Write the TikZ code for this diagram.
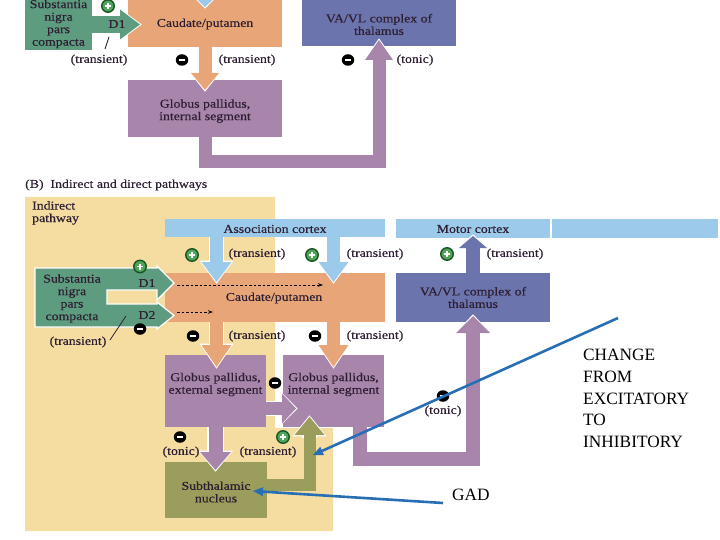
\documentclass[tikz,border=0pt]{standalone}
\usepackage{fontspec}
\setmainfont{Liberation Serif}
\newfontfamily\diagfont{Liberation Serif}[FakeStretch=1.15,FakeBold=0.35]
\usetikzlibrary{arrows.meta,calc,shapes.geometric}
\definecolor{snG}{RGB}{94,156,128}
\definecolor{cauO}{RGB}{232,166,120}
\definecolor{gpP}{RGB}{168,134,172}
\definecolor{thalC}{RGB}{108,116,173}
\definecolor{barB}{RGB}{156,202,235}
\definecolor{stnO}{RGB}{154,157,92}
\definecolor{bgY}{RGB}{245,220,160}
\definecolor{annB}{RGB}{40,110,180}
\definecolor{txt}{RGB}{45,30,50}
\definecolor{pfill}{RGB}{80,165,90}
\definecolor{pring}{RGB}{25,85,35}
\newcommand\blockarrow[5]{%
  \pgfmathsetmacro\baW{#2+2.4}\pgfmathsetmacro\baH{#3+4}\pgfmathsetmacro\baL{#4+3}%
  \draw[white, line width=\baW pt, line join=miter, -{Triangle[width=\baH pt, length=\baL pt, line width=0pt]}, shorten >=-1.7pt] #5;
  \draw[#1, line width=#2pt, line join=miter, -{Triangle[width=#3pt, length=#4pt, line width=0pt]}] #5;}
\begin{document}
\begin{tikzpicture}[x=1pt,y=-1pt,
  box/.style={rectangle, inner sep=0pt, draw=none, outer sep=0pt},
  lab/.style={font=\diagfont\fontsize{12}{12.5}\selectfont, text=txt, inner sep=0pt, align=center},
  note/.style={font=\fontsize{17.3}{21.7}\selectfont, text=black, inner sep=0pt, align=left},
  possign/.style={circle, fill=pfill, draw=pring, line width=1.4pt, minimum size=12.5pt, inner sep=0pt,
    path picture={\draw[white,line width=1.8pt] ([xshift=-3pt]path picture bounding box.center) -- ([xshift=3pt]path picture bounding box.center);
      \draw[white,line width=1.8pt] ([yshift=-3pt]path picture bounding box.center) -- ([yshift=3pt]path picture bounding box.center);}},
  negsign/.style={ellipse, fill=black, minimum width=12.5pt, minimum height=11.5pt, inner sep=0pt,
    path picture={\draw[white,line width=2.4pt] ([xshift=-3.4pt]path picture bounding box.center) -- ([xshift=3.4pt]path picture bounding box.center);}},
  dasharrow/.style={draw=black, line width=0.7pt, dash pattern=on 2.5pt off 2pt, -{Stealth[length=5pt,width=3.5pt]}},
  slash/.style={draw=txt, line width=0.8pt},
  annot/.style={draw=annB, line width=2.6pt, -{Triangle[width=9pt,length=10pt,line width=0pt]}}
]
\useasboundingbox (0,0) rectangle (720,540);
\clip (0,0) rectangle (720,540);

% ---------------- Part A ----------------
\node[box, fill=snG, minimum width=67pt, minimum height=54pt] (snA) at (58.5,23) {};
\node[box, fill=cauO, minimum width=154pt, minimum height=48pt] (cauA) at (205,23) {};
\node[box, fill=thalC, minimum width=154pt, minimum height=46pt] (thalA) at (379,23) {};
\node[box, fill=gpP, minimum width=154pt, minimum height=57pt] (gpiA) at (205,108.5) {};

\blockarrow{snG}{17}{30}{20}{($(snA.east)+(0,1.5)$) -- ($(cauA.west)+(12,1.5)$)}
\blockarrow{barB}{13}{30}{14}{($(cauA.north)+(0,-20)$) -- ($(cauA.north)+(0,8)$)}
\blockarrow{cauO}{13}{28}{17}{(cauA.south) -- ($(gpiA.north)+(0,10)$)}
\blockarrow{gpP}{13}{28}{20}{(gpiA.south) -- ++(0,24.5) -| ($(thalA.south)+(0,-6)$)}

\node[lab] (snAt) at (58.5,24) {Substantia\\nigra\\pars\\compacta};
\node[lab] (d1A) at (117,24) {D1};
\node[lab] (cauAt) at (205,24) {Caudate/putamen};
\node[lab] (thalAt) at (379,24.5) {VA/VL complex of\\thalamus};
\node[lab] (gpiAt) at (205,111) {Globus pallidus,\\internal segment};
\coordinate (slA1) at (109,37); \coordinate (slA2) at (105,49);
\draw[slash] (slA1) -- (slA2);
\node[lab] (trA1) at (99,60) {(transient)};
\node[lab] (trA2) at (247,60) {(transient)};
\node[lab] (tonA) at (415,60) {(tonic)};
\node[possign] (pA1) at (108,6) {};
\node[negsign] (mA1) at (182,60) {};
\node[negsign] (mA2) at (348,60) {};

\node[lab, anchor=west] (titleB) at (25,185) {(B)\ \ Indirect and direct pathways};

% ---------------- Part B ----------------
\fill[bgY] (25,197) -- (275,197) -- (275,428) -- (333,428) -- (333,531) -- (25,531) -- cycle;
\node[lab, anchor=north west, align=left] (indir) at (32,201) {Indirect\\pathway};

\node[box, fill=barB, minimum width=220pt, minimum height=18pt] (assoc) at (275,228) {};
\node[box, fill=barB, minimum width=154pt, minimum height=19pt] (motor) at (473,228.5) {};
\node[box, fill=barB, minimum width=166pt, minimum height=19pt] (motorx) at (635,228.5) {};
\node[box, fill=cauO, minimum width=220pt, minimum height=49pt] (cauB) at (275,297.5) {};
\node[box, fill=thalC, minimum width=154pt, minimum height=49pt] (thalB) at (473,297.5) {};
\node[box, fill=gpP, minimum width=101pt, minimum height=72pt] (gpe) at (215.5,391) {};
\node[box, fill=gpP, minimum width=101pt, minimum height=72pt] (gpiB) at (333.5,391) {};
\node[box, fill=stnO, minimum width=102pt, minimum height=56pt] (stn) at (216,490) {};

% substantia nigra with D1 / D2 arms
\draw[fill=snG, draw=white, line width=1.2pt, line join=miter]
  (35,268) -- (157,268) -- (157,266) -- (174,283) -- (157,300) -- (157,290) -- (107,290) -- (107,304)
  -- (157,304) -- (157,302) -- (174,315.5) -- (157,329) -- (157,327) -- (35,327) -- cycle;

\blockarrow{barB}{13}{30}{20}{($(assoc.south)+(-58.5,0)$) -- ($(cauB.north)+(-58.5,9)$)}
\blockarrow{barB}{13}{30}{20}{($(assoc.south)+(58.5,0)$) -- ($(cauB.north)+(58.5,9)$)}
\blockarrow{cauO}{13}{30}{22}{($(cauB.south)+(-58.5,0)$) -- ($(gpe.north)+(1,12)$)}
\blockarrow{cauO}{13}{30}{22}{($(cauB.south)+(58.5,0)$) -- ($(gpiB.north)+(0,12)$)}
\blockarrow{gpP}{13}{30}{14}{($(gpe.east)+(0,17.5)$) -- ($(gpiB.west)+(13,17.5)$)}
\blockarrow{gpP}{14}{31}{18}{(gpe.south) -- ($(stn.north)+(-0.5,8)$)}
\draw[stnO, line width=12pt, line join=miter] ($(stn.east)+(0,-5.5)$) -| ($(gpiB.south)+(-24,10)$);
\blockarrow{stnO}{12}{30}{18}{($(gpiB.south)+(-24,11)$) -- ($(gpiB.south)+(-24,-10)$)}
\blockarrow{gpP}{14}{34}{17}{($(gpiB.south)+(26.5,0)$) -- ++(0,31.5) -| ($(thalB.south)+(0,-6)$)}
\blockarrow{thalC}{14}{28}{12}{(thalB.north) -- ($(motor.south)+(0,-2)$)}

\node[lab] (assoct) at (275,229) {Association cortex};
\node[lab] (motort) at (473,229) {Motor cortex};
\node[lab] (cauBt) at (274,298) {Caudate/putamen};
\node[lab] (thalBt) at (473,297.5) {VA/VL complex of\\thalamus};
\node[lab] (gpet) at (215.5,384.5) {Globus pallidus,\\external segment};
\node[lab] (gpiBt) at (333.5,384.5) {Globus pallidus,\\internal segment};
\node[lab] (stnt) at (216,492) {Subthalamic\\nucleus};
\node[lab] (snBt) at (72,298.5) {Substantia\\nigra\\pars\\compacta};
\node[lab] (d1B) at (147,283) {D1};
\node[lab] (d2B) at (147,315) {D2};

\coordinate (ds1) at (177,285); \coordinate (de1) at (323,285);
\coordinate (ds2) at (177,312); \coordinate (de2) at (213,312);
\draw[dasharrow] (ds1) -- (de1);
\draw[dasharrow] (ds2) -- (de2);
\coordinate (slB1) at (126,316); \coordinate (slB2) at (110,340);
\draw[slash] (slB1) -- (slB2);

\node[lab] (trB0) at (78,342) {(transient)};
\node[lab] (trB1) at (257,254) {(transient)};
\node[lab] (trB2) at (375,254) {(transient)};
\node[lab] (trB3) at (515,254) {(transient)};
\node[lab] (trB4) at (257,336) {(transient)};
\node[lab] (trB5) at (375,336) {(transient)};
\node[lab] (tonB1) at (181,452) {(tonic)};
\node[lab] (trB6) at (268,452) {(transient)};
\node[lab] (tonB2) at (443,411) {(tonic)};

\node[possign] (pB1) at (140,266.5) {};
\node[possign] (pB2) at (192,255) {};
\node[possign] (pB3) at (312,255) {};
\node[possign] (pB4) at (447,254) {};
\node[possign] (pB5) at (283,437) {};
\node[negsign] (mB1) at (140,329) {};
\node[negsign] (mB2) at (193,336) {};
\node[negsign] (mB3) at (315,336) {};
\node[negsign] (mB4) at (275,383) {};
\node[negsign] (mB5) at (180,437) {};
\node[negsign] (mB6) at (443,396) {};

% ---------------- annotations ----------------
\node[note, anchor=north west] (chg) at (583,349) {CHANGE\\FROM\\EXCITATORY\\TO\\INHIBITORY};
\node[note, anchor=base west] (gad) at (452,500) {GAD};
\coordinate (an1s) at (618,318); \coordinate (an1e) at (313,455);
\coordinate (an2s) at (443,503); \coordinate (an2e) at (253,491);
\draw[annot] (an1s) -- (an1e);
\draw[annot] (an2s) -- (an2e);
\end{tikzpicture}
\end{document}
